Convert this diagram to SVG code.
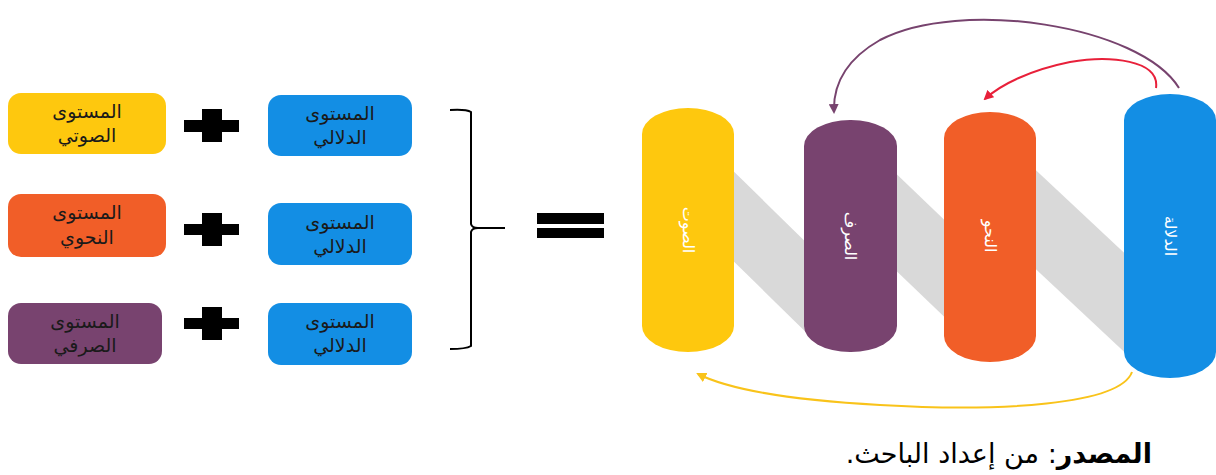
<svg xmlns="http://www.w3.org/2000/svg" width="1216" height="475" viewBox="0 0 1216 475">
  <style>
    .box-text { font-family: "DejaVu Sans", "Liberation Sans", sans-serif; font-size: 19px; fill: #1a1a1a; text-anchor: middle; }
    .cyl-text { font-family: "DejaVu Sans", "Liberation Sans", sans-serif; font-size: 16px; fill: #ffffff; text-anchor: middle; dominant-baseline: central; }
    .plus { fill: #000000; }
    .band { fill: #d9d9d9; }
    .link { fill: none; stroke-width: 2; }
  </style>
  <defs>
    <marker id="head-purple" viewBox="0 0 10 10" refX="8" refY="5" markerWidth="5" markerHeight="5" orient="auto">
      <path d="M0,0 L10,5 L0,10 z" fill="#77436e"/>
    </marker>
    <marker id="head-red" viewBox="0 0 10 10" refX="8" refY="5" markerWidth="5" markerHeight="5" orient="auto">
      <path d="M0,0 L10,5 L0,10 z" fill="#e8203a"/>
    </marker>
    <marker id="head-yellow" viewBox="0 0 10 10" refX="8" refY="5" markerWidth="5" markerHeight="5" orient="auto">
      <path d="M0,0 L10,5 L0,10 z" fill="#f9c31a"/>
    </marker>
  </defs>
  <rect width="1216" height="475" fill="#ffffff"/>

  <!-- left: level combinations -->
  <g id="phonetic">
    <rect x="8" y="93" width="158" height="61" rx="13" fill="#fec80e"/>
    <text class="box-text" x="87" y="118">المستوى</text>
    <text class="box-text" x="87" y="142">الصوتي</text>
  </g>
  <g id="semantic-1">
    <rect x="268" y="95" width="144" height="61" rx="13" fill="#138ee4"/>
    <text class="box-text" x="340" y="120">المستوى</text>
    <text class="box-text" x="340" y="144">الدلالي</text>
  </g>
  <g id="plus-1" class="plus">
    <rect x="184" y="120" width="55" height="12"/>
    <rect x="202" y="109" width="20" height="33"/>
  </g>

  <g id="syntactic">
    <rect x="8" y="194" width="158" height="63" rx="13" fill="#f15e28"/>
    <text class="box-text" x="87" y="219">المستوى</text>
    <text class="box-text" x="87" y="244">النحوي</text>
  </g>
  <g id="semantic-2">
    <rect x="268" y="203" width="144" height="62" rx="13" fill="#138ee4"/>
    <text class="box-text" x="340" y="229">المستوى</text>
    <text class="box-text" x="340" y="253">الدلالي</text>
  </g>
  <g id="plus-2" class="plus">
    <rect x="184" y="224" width="55" height="11"/>
    <rect x="202" y="213" width="20" height="33"/>
  </g>

  <g id="morphological">
    <rect x="8" y="303" width="154" height="61" rx="13" fill="#78436f"/>
    <text class="box-text" x="85" y="328">المستوى</text>
    <text class="box-text" x="85" y="352">الصرفي</text>
  </g>
  <g id="semantic-3">
    <rect x="268" y="303" width="144" height="62" rx="13" fill="#138ee4"/>
    <text class="box-text" x="340" y="328">المستوى</text>
    <text class="box-text" x="340" y="352">الدلالي</text>
  </g>
  <g id="plus-3" class="plus">
    <rect x="184" y="318" width="55" height="11"/>
    <rect x="202" y="307" width="20" height="33"/>
  </g>

  <!-- curly bracket and equals sign -->
  <g id="bracket">
    <path d="M450,110 Q466,109 471,112 L471,224 Q472,228 478,228 L505,228 M478,228 Q472,228 471,232 L471,346 Q466,349 450,349" fill="none" stroke="#000" stroke-width="2"/>
  </g>
  <g id="equals" fill="#000">
    <rect x="537" y="213" width="67" height="11"/>
    <rect x="537" y="228" width="67" height="10"/>
  </g>

  <!-- grey bands linking the cylinders -->
  <g id="bands">
    <polygon class="band" points="720,158 820,256 820,346 720,248"/>
    <polygon class="band" points="885,163 958,233 958,330 885,260"/>
    <polygon class="band" points="1025,160 1135,263 1135,362 1025,259"/>
  </g>

  <!-- cylinders -->
  <g id="cyl-phonetic">
    <rect x="642" y="108" width="92" height="244" rx="46" ry="26" fill="#fec80e"/>
    <text class="cyl-text" transform="translate(688,230) rotate(90)">الصوت</text>
  </g>
  <g id="cyl-morphology">
    <rect x="804" y="120" width="93" height="232" rx="46" ry="26" fill="#78436f"/>
    <text class="cyl-text" transform="translate(850,236) rotate(90)">الصرف</text>
  </g>
  <g id="cyl-syntax">
    <rect x="944" y="112" width="92" height="250" rx="46" ry="26" fill="#f15e28"/>
    <text class="cyl-text" transform="translate(990,236) rotate(90)">النحو</text>
  </g>
  <g id="cyl-semantics">
    <rect x="1124" y="94" width="92" height="284" rx="46" ry="26" fill="#138ee4"/>
    <text class="cyl-text" transform="translate(1170,236) rotate(90)">الدلالة</text>
  </g>

  <!-- connectors -->
  <g id="connectors">
    <path class="link" stroke="#77436e" marker-end="url(#head-purple)" d="M1179,88 C1140,25 960,-2 880,40 C845,60 833,85 834,112"/>
    <path class="link" stroke="#e8203a" marker-end="url(#head-red)" d="M1156,88 C1160,60 1110,55 1070,62 C1030,70 1000,85 985,99"/>
    <path class="link" stroke="#f9c31a" marker-end="url(#head-yellow)" d="M1132,372 C1120,405 1000,412 880,405 C790,400 730,390 698,374"/>
  </g>

  <!-- source note -->
  <text x="1152" y="463" direction="rtl" text-anchor="start" font-family="'DejaVu Sans', 'Liberation Sans', sans-serif" font-size="27" fill="#000"><tspan font-weight="bold">المصدر</tspan>: من إعداد الباحث.</text>
</svg>
